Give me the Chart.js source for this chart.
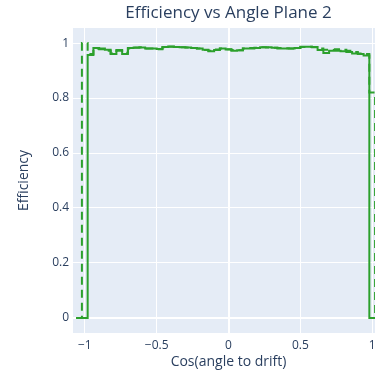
<!DOCTYPE html>
<html>
<head>
<meta charset="utf-8">
<script src="https://cdn.jsdelivr.net/npm/chart.js@4.4.0/dist/chart.umd.min.js"></script>
<style>
  html, body { margin: 0; padding: 0; background: #fff; overflow: hidden; }
  #wrap { width: 456px; height: 370px; }
</style>
</head>
<body>
<div id="wrap"><canvas id="effChart" width="456" height="370"></canvas></div>
<script>
// histogram bins (step lines), width 0.04 in cos(angle), both series start at -1.06
const binWidth = 0.04;
const binStart = -1.06;
const solidEff = [0, 0,
  0.957, 0.982, 0.98, 0.976, 0.96, 0.975, 0.96, 0.982, 0.984, 0.984,
  0.98, 0.98, 0.979, 0.986, 0.988, 0.986, 0.985, 0.984, 0.982, 0.98,
  0.976, 0.97, 0.975, 0.98, 0.977, 0.972, 0.974, 0.98, 0.98, 0.982,
  0.985, 0.985, 0.983, 0.98, 0.98, 0.98, 0.982, 0.987, 0.987, 0.986,
  0.975, 0.964, 0.972, 0.972, 0.97, 0.968, 0.962, 0.96, 0.955,
  0, 0, 0];
const dashedEff = [0, 1.0,
  0.96, 0.98, 0.978, 0.972, 0.962, 0.972, 0.965, 0.98, 0.983, 0.985,
  0.98, 0.98, 0.978, 0.984, 0.987, 0.986, 0.985, 0.984, 0.982, 0.98,
  0.975, 0.972, 0.977, 0.98, 0.978, 0.975, 0.974, 0.98, 0.982, 0.983,
  0.985, 0.984, 0.983, 0.982, 0.981, 0.98, 0.982, 0.986, 0.987, 0.985,
  0.98, 0.976, 0.975, 0.978, 0.976, 0.972, 0.968, 0.962, 0.96,
  0.82, 0, 0];
const xTicks = [-1, -0.5, 0, 0.5, 1];
const yTicks = [0, 0.2, 0.4, 0.6, 0.8, 1];
const chartTitle = 'Efficiency vs Angle Plane 2';

const fontColor = '#2a3f5f';
const green = '#2ca02c';

function toPoints(vals) {
  return vals.map((v, i) => ({ x: +(binStart + i * binWidth).toFixed(3), y: v }));
}

// plotly-like plot background + title centred over the plot area
const plotBg = {
  id: 'plotBg',
  beforeDraw(chart) {
    const { ctx, chartArea: a } = chart;
    ctx.save();
    ctx.fillStyle = '#E5ECF6';
    ctx.fillRect(a.left, a.top, a.right - a.left, a.bottom - a.top);
    ctx.restore();
  },
  afterDraw(chart) {
    const { ctx, chartArea: a } = chart;
    ctx.save();
    ctx.fillStyle = fontColor;
    ctx.font = '17px "Open Sans"';
    ctx.textAlign = 'center';
    ctx.textBaseline = 'middle';
    ctx.fillText(chartTitle, (a.left + a.right) / 2, 13);
    ctx.restore();
  }
};

const ctx = document.getElementById('effChart').getContext('2d');
const chart = new Chart(ctx, {
  type: 'line',
  data: {
    datasets: [{
      data: toPoints(solidEff),
      borderColor: green,
      borderWidth: 2,
      stepped: true,
      pointRadius: 0,
      fill: false
    }, {
      data: toPoints(dashedEff),
      borderColor: green,
      borderWidth: 2,
      borderDash: [8, 5],
      stepped: true,
      pointRadius: 0,
      fill: false
    }]
  },
  options: {
    responsive: false,
    animation: false,
    layout: { padding: { top: 28, right: 72, bottom: 0, left: 0 } },
    plugins: {
      legend: { display: false },
      tooltip: { enabled: false },
      title: { display: false }
    },
    scales: {
      x: {
        type: 'linear',
        min: -1.082,
        max: 1.082,
        afterBuildTicks: s => { s.ticks = xTicks.map(v => ({ value: v })); },
        afterFit: s => { s.height = 37; },
        border: { display: false },
        grid: {
          color: '#fff',
          lineWidth: c => (c.tick && c.tick.value === 0 ? 2 : 1),
          drawTicks: false
        },
        ticks: {
          color: fontColor,
          font: { family: 'Open Sans', size: 12 },
          padding: 5,
          maxRotation: 0,
          autoSkip: false,
          callback: v => (v < 0 ? '\u2212' + Math.abs(v) : String(v))
        },
        title: {
          display: true,
          text: 'Cos(angle to drift)',
          color: fontColor,
          font: { family: 'Open Sans', size: 14 },
          padding: { top: 0, bottom: 0 }
        }
      },
      y: {
        min: -0.055,
        max: 1.055,
        afterBuildTicks: s => { s.ticks = yTicks.map(v => ({ value: v })); },
        afterFit: s => { s.width = 73; },
        border: { display: false },
        grid: {
          color: '#fff',
          lineWidth: c => (c.tick && c.tick.value === 0 ? 2 : 1),
          drawTicks: false
        },
        ticks: {
          color: fontColor,
          font: { family: 'Open Sans', size: 12 },
          padding: 4,
          autoSkip: false,
          callback: v => String(v)
        },
        title: {
          display: true,
          text: 'Efficiency',
          color: fontColor,
          font: { family: 'Open Sans', size: 14 },
          padding: { top: 16, bottom: 0 }
        }
      }
    }
  },
  plugins: [plotBg]
});
</script>
</body>
</html>
